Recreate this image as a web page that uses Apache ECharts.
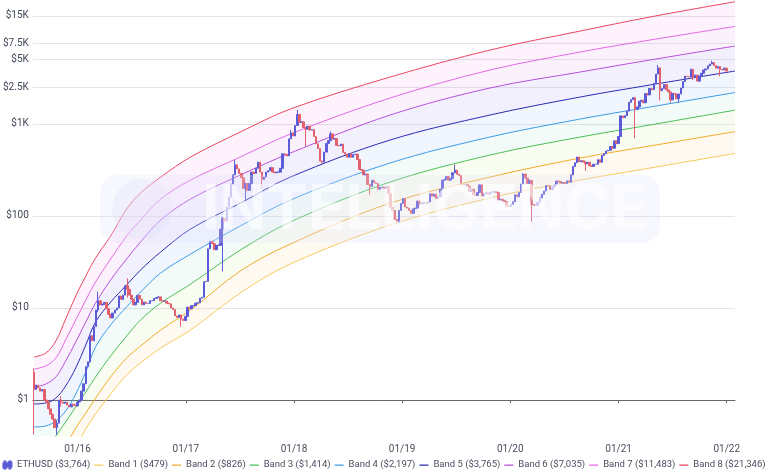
<!DOCTYPE html>
<html lang="en">
<head>
    <meta charset="UTF-8">
    <title>ETHUSD rainbow</title>
    <style>
        html, body { margin: 0; padding: 0; background: #fff; }
        #main { width: 768px; height: 473px; }
    </style>
</head>
<body>
<div id="main"></div>
<script src="https://cdn.jsdelivr.net/npm/echarts@6/dist/echarts.min.js"></script>
<script>
    // weekly ETHUSD closes, one every 7 days starting at firstWeek
    const firstWeek = Date.UTC(2015, 7, 7);
    const firstOpen = 2.0;
    const weekClose = [
        // 2015
        1.3, 1.45, 1.35, 1.25, 1.3, 1.0, 0.95, 0.8, 0.7, 0.62, 0.5, 0.56, 1.0, 0.95, 0.92, 0.95, 0.88, 0.84, 0.9, 0.88, 0.86,
        // 2016
        0.95, 1.0, 1.25, 1.5, 2.3, 2.6, 5.0, 4.4, 6.3, 9.5, 12.0, 10.8, 11.0, 11.5, 9.8, 8.5, 7.8, 8.8,
        9.5, 10.0, 13.5, 12.4, 13.8, 17.5, 16.0, 13.8, 12.4, 10.8, 11.5, 13.7, 12.5, 10.8, 11.6, 11.2, 11.2,
        12.0, 12.0, 12.7, 13.0, 13.2, 12.0, 11.9, 11.9, 11.3, 11.1, 10.0, 9.6, 8.2, 7.9, 8.4, 7.6, 7.3, 8.1,
        // 2017
        10.2, 9.8, 10.6, 10.6, 11.3, 11.4, 12.8, 13.1, 19.3, 19.5, 44, 53, 50, 43, 48, 48, 72,
        95, 88, 125, 160, 222, 280, 360, 325, 290, 260, 200, 225, 190, 225, 300, 290, 330,
        385, 300, 250, 265, 300, 310, 335, 300, 295, 300, 300, 330, 475, 465, 450, 690, 800, 740,
        // 2018
        960, 1270, 1040, 1055, 915, 880, 945, 860, 870, 730, 610, 540, 395, 385, 495, 615, 660,
        780, 685, 695, 585, 580, 605, 490, 470, 435, 475, 435, 465, 470, 410, 320, 315, 280, 285,
        220, 210, 245, 230, 225, 195, 205, 205, 200, 210, 175, 125, 115, 92, 85, 115, 137,
        // 2019
        155, 125, 122, 115, 107, 120, 122, 145, 135, 137, 140, 137, 142, 175, 164, 173, 155,
        162, 195, 245, 250, 268, 245, 255, 295, 315, 285, 275, 220, 218, 218, 210, 185, 195, 170,
        168, 180, 218, 165, 175, 180, 172, 180, 183, 185, 180, 150, 152, 148, 143, 128, 127,
        // 2020
        134, 143, 170, 162, 180, 222, 285, 258, 226, 244, 133, 132, 130, 141, 158, 172, 187,
        214, 212, 194, 208, 220, 240, 237, 229, 230, 226, 241, 233, 280, 345, 379, 438, 388, 398,
        386, 370, 383, 351, 346, 365, 366, 409, 383, 455, 475, 510, 518, 569, 545, 655, 612,
        // 2021
        730, 1225, 1170, 1230, 1380, 1720, 1840, 1935, 1445, 1530, 1765, 1810, 1700,
        2140, 2070, 2430, 2360, 2770, 3490, 4075, 2300, 2425, 2690, 2350, 2230, 1830,
        2150, 2115, 1880, 2120, 2460, 2890, 3310, 3280, 3245, 3940, 3210, 3400, 2925,
        3310, 3560, 3860, 3970, 4290, 4480, 4660, 4310, 4040, 4210, 3920, 3880, 4050, 3764
    ];
    // weeks whose wicks stand out: [week, low, high]
    const wicks = [
        ['2015-08-07', 0.42, 2.2], ['2015-10-23', 0.42, 0.6], ['2015-11-06', 0.85, 1.1],
        ['2016-03-11', 9.0, 15.0], ['2016-06-17', 13.0, 21.0], ['2016-12-16', 6.3, 8.4],
        ['2017-05-05', 25, 97], ['2017-06-16', 280, 405], ['2017-07-21', 150, 230],
        ['2017-09-15', 200, 300], ['2017-12-22', 690, 860], ['2018-01-12', 960, 1420],
        ['2018-02-09', 570, 915], ['2018-04-06', 370, 400], ['2018-05-04', 660, 830],
        ['2018-09-14', 170, 220], ['2018-12-14', 83, 92], ['2019-06-28', 295, 360],
        ['2020-02-14', 222, 290], ['2020-03-13', 87, 244], ['2020-09-11', 310, 386],
        ['2021-02-26', 700, 1935], ['2021-05-14', 3490, 4380], ['2021-05-21', 1800, 4075],
        ['2021-06-25', 1700, 2230], ['2021-07-23', 1720, 2120], ['2021-09-10', 3000, 3940],
        ['2021-11-12', 4480, 4870], ['2021-12-10', 3300, 4210]
    ];

    // rainbow bands
    const bandDates = ['2015-08-07', '2015-09-16', '2015-10-20', '2015-11-22', '2015-12-26', '2016-01-29',
        '2016-03-02', '2016-04-22', '2016-06-15', '2016-08-01', '2016-10-08', '2017-01-17', '2017-07-04',
        '2017-12-20', '2018-11-22', '2019-10-25', '2020-08-25', '2021-04-17', '2022-01-29'];
    const band1 = [0.050, 0.076, 0.119, 0.187, 0.308, 0.484, 0.705, 1.16, 1.87, 2.53, 3.67, 5.77, 14.6, 30.1, 79.8, 157, 246, 332, 479];
    const band2 = [0.082, 0.128, 0.202, 0.316, 0.496, 0.722, 1.05, 1.78, 2.86, 3.86, 5.77, 9.51, 25.3, 49.6, 138, 265, 427, 577, 826];
    const band3 = [0.173, 0.272, 0.406, 0.577, 0.839, 1.22, 1.78, 3.01, 4.96, 7.41, 11.3, 18.2, 42.7, 86.1, 234, 460, 722, 975, 1414];
    const band4 = [0.509, 0.522, 0.591, 0.759, 1.16, 2.02, 3.77, 6.54, 10.3, 14.9, 24.0, 38.6, 77.9, 149, 377, 722, 1133, 1530, 2197];
    const band5 = [0.905, 0.928, 1.05, 1.42, 2.23, 3.96, 7.04, 11.6, 17.8, 25.9, 40.6, 72.2, 138, 265, 670, 1252, 1966, 2654, 3765];
    const band6 = [1.38, 1.49, 1.78, 2.65, 4.27, 7.04, 11.3, 20.2, 34.1, 52.2, 90.4, 153, 279, 484, 1252, 2463, 3675, 4963, 7035];
    const band7 = [2.17, 2.34, 2.86, 4.49, 7.41, 12.2, 19.2, 34.1, 60.6, 90.4, 153, 246, 438, 779, 1917, 3864, 6062, 8185, 11483];
    const band8 = [2.93, 3.24, 4.38, 7.59, 13.5, 22.3, 35.0, 60.6, 119, 178, 265, 438, 819, 1456, 3243, 6373, 10254, 14555, 21346];

    const yTicks = [1, 10, 100, 1000, 2500, 5000, 7500, 15000];
    const yTickLabels = ['$1', '$10', '$100', '$1K', '$2.5K', '$5K', '$7.5K', '$15K'];
    const xTicks = ['2016-01-01', '2017-01-01', '2018-01-01', '2019-01-01', '2020-01-01', '2021-01-01', '2022-01-01'];

    const bands = [band1, band2, band3, band4, band5, band6, band7, band8];
    const bandColors = ['#f7c95c', '#f1ab2c', '#4cbf58', '#3d9be9', '#2b2bb3', '#b54fdc', '#e468e6', '#e6475f'];
    // fill of the strip just below each band (band 1 has none)
    const bandFills = [null,
        'rgba(255, 205, 110, 0.14)', 'rgba(205, 230, 120, 0.16)', 'rgba(130, 215, 175, 0.15)',
        'rgba(120, 170, 245, 0.16)', 'rgba(150, 130, 235, 0.17)', 'rgba(215, 120, 235, 0.15)',
        'rgba(245, 130, 225, 0.15)'];

    const lg = v => Math.log10(v);
    const day = 864e5;
    const ts = s => Date.parse(s + 'T00:00:00Z');
    const money = v => '$' + Math.round(v).toLocaleString('en-US');

    const wickMap = {};
    wicks.forEach(w => { wickMap[w[0]] = w; });

    const candles = weekClose.map((c, i) => {
        const t = firstWeek + i * 7 * day;
        const o = i === 0 ? firstOpen : weekClose[i - 1];
        let lo = Math.min(o, c), hi = Math.max(o, c);
        const w = wickMap[new Date(t).toISOString().slice(0, 10)];
        if (w) { lo = Math.min(lo, w[1]); hi = Math.max(hi, w[2]); }
        return [t, lg(o), lg(c), lg(lo), lg(hi)];
    });

    const ethName = 'ETHUSD (' + money(weekClose[weekClose.length - 1]) + ')';
    const bandName = k => 'Band ' + (k + 1) + ' (' + money(bands[k][bands[k].length - 1]) + ')';

    // the log price comes first in each item so that the stack sums it, not the date
    const bandSeries = bands.map((b, k) => ({
        name: bandName(k),
        type: 'line',
        stack: 'rainbow',
        stackStrategy: 'all',
        encode: { x: 1, y: 0 },
        smooth: 0.35,
        symbol: 'none',
        z: 1,
        lineStyle: { width: 1, color: bandColors[k] },
        itemStyle: { color: bandColors[k] },
        areaStyle: bandFills[k] ? { color: bandFills[k] } : undefined,
        data: b.map((v, i) => [k === 0 ? lg(v) : lg(v) - lg(bands[k - 1][i]), ts(bandDates[i])])
    }));

    const yMin = -0.3915, yMax = 4.3478;
    const font = 'Roboto, "Noto Sans", sans-serif';
    // a short flat dash; the corner specks only stretch the box
    const dashIcon = 'path://M0,0h0.01v0.01h-0.01z M0,3h10v1.4h-10z M10,7h-0.01v-0.01h0.01z';
    const candleIcon = 'path://M1,2h3v4h-3z M2,0h1v7h-1z M6,1h3v4h-3z M7,0h1v7h-1z';

    const myChart = echarts.init(document.getElementById('main'));
    myChart.setOption({
        animation: false,
        textStyle: { fontFamily: font },
        grid: { left: 32, right: 33, top: 0, bottom: 37 },
        legend: {
            bottom: 3,
            left: 'center',
            padding: 0,
            itemGap: 4,
            itemWidth: 9,
            itemHeight: 7,
            textStyle: { fontSize: 9.5, color: '#4a4f5e', fontFamily: font },
            data: [{ name: ethName, icon: candleIcon, itemStyle: { color: '#6a55d0' } }]
                .concat(bands.map((b, k) => ({ name: bandName(k), icon: dashIcon })))
        },
        xAxis: {
            type: 'value',
            min: Date.UTC(2015, 7, 3),
            max: Date.UTC(2022, 0, 29),
            axisLine: { lineStyle: { color: '#666', width: 1 } },
            axisTick: { show: true, length: 3, lineStyle: { color: '#666' }, customValues: xTicks.map(ts) },
            splitLine: { show: false },
            axisLabel: {
                customValues: xTicks.map(ts),
                fontSize: 10,
                color: '#4a4f5e',
                margin: 8,
                formatter: v => {
                    const d = new Date(v);
                    return String(d.getUTCMonth() + 1).padStart(2, '0') + '/' + String(d.getUTCFullYear()).slice(2);
                }
            }
        },
        yAxis: {
            type: 'value',
            min: yMin,
            max: yMax,
            axisLine: { show: false },
            axisTick: { show: false, customValues: yTicks.map(lg) },
            splitLine: { lineStyle: { color: '#e4e4e8', width: 1 } },
            axisLabel: {
                customValues: yTicks.map(lg),
                fontSize: 10,
                color: '#3f4657',
                margin: 4,
                formatter: v => {
                    let best = 0;
                    yTicks.forEach((t, i) => { if (Math.abs(lg(t) - v) < Math.abs(lg(yTicks[best]) - v)) best = i; });
                    return yTickLabels[best];
                }
            }
        },
        graphic: [
            { type: 'rect', shape: { x: 100, y: 175, width: 560, height: 68, r: 18 }, style: { fill: 'rgba(222, 222, 250, 0.25)' }, z: 10, silent: true },
            { type: 'circle', shape: { cx: 142, cy: 209, r: 30 }, style: { fill: 'rgba(222, 222, 250, 0.3)' }, z: 10, silent: true },
            { type: 'text', x: 425, y: 210, style: { text: 'INTELLIGENCE', fill: 'rgba(255, 255, 255, 0.6)', font: 'bold 62px Inter, sans-serif', align: 'center', verticalAlign: 'middle' }, z: 11, silent: true }
        ],
        series: [{
            name: ethName,
            type: 'candlestick',
            z: 3,
            barWidth: 2,
            itemStyle: {
                color: '#5b5bd8', color0: '#e2606c',
                borderColor: '#5b5bd8', borderColor0: '#e2606c', borderWidth: 1
            },
            data: candles
        }].concat(bandSeries)
    });
</script>
</body>
</html>
